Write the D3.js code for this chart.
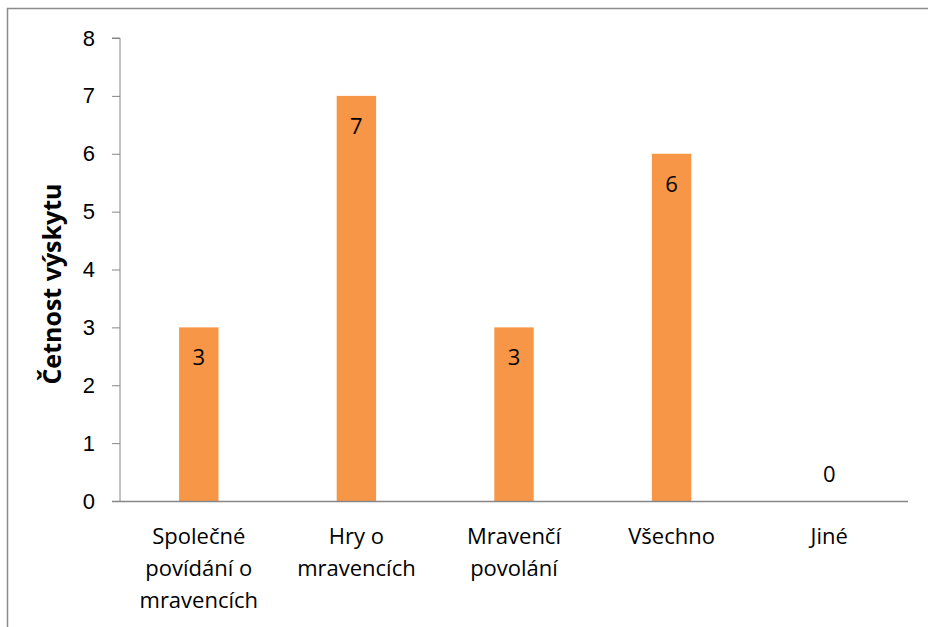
<!DOCTYPE html>
<html>
<head>
<meta charset="utf-8">
<script src="https://cdn.jsdelivr.net/npm/d3@7"></script>
<style>
  body { margin: 0; background: #fff; }
  svg { display: block; font-family: "Open Sans", sans-serif; }
  .axis path, .axis line { stroke: #868686; }
  .axis text { fill: #000; font-size: 22px; }
</style>
</head>
<body>
<svg id="chart" width="928" height="627"></svg>
<script>
// data
const categories = ["Společné povídání o mravencích", "Hry o mravencích", "Mravenčí povolání", "Všechno", "Jiné"];
const counts = [3, 7, 3, 6, 0];
const yTicks = [0, 1, 2, 3, 4, 5, 6, 7, 8];
const yTitle = "Četnost výskytu";

const svg = d3.select("#chart");
const fs = 22;

// ramecek kolem grafu (vpravo a dole oriznuty)
svg.append("rect")
  .attr("x", 7.5).attr("y", 8.5)
  .attr("width", 1000).attr("height", 700)
  .attr("fill", "none")
  .attr("stroke", "#8c8c8c")
  .attr("stroke-width", 1.5);

const plotLeft = 120, plotRight = 908, plotTop = 38, plotBottom = 501;

const x = d3.scaleBand()
  .domain(categories)
  .range([plotLeft, plotRight])
  .padding(0);

const y = d3.scaleLinear()
  .domain([0, 8])
  .range([plotBottom, plotTop]);

const barW = x.bandwidth() * 0.25;

// y osa
svg.append("g")
  .attr("class", "axis")
  .attr("transform", `translate(${plotLeft},0)`)
  .call(d3.axisLeft(y).tickValues(yTicks).tickSize(8).tickPadding(17).tickFormat(d3.format("d")))
  .call(g => g.select(".domain").attr("d", `M-8,${plotTop}H0V${plotBottom}`));

// sloupce
svg.append("g")
  .selectAll("rect")
  .data(counts)
  .join("rect")
  .attr("x", (d, i) => x(categories[i]) + (x.bandwidth() - barW) / 2)
  .attr("y", d => y(d))
  .attr("width", barW)
  .attr("height", d => y(0) - y(d))
  .attr("fill", "#F79646");

// x osa
svg.append("line")
  .attr("x1", plotLeft - 8).attr("x2", plotRight)
  .attr("y1", y(0) + 0.5).attr("y2", y(0) + 0.5)
  .attr("stroke", "#868686")
  .attr("stroke-width", 1.5);

// popisky hodnot
svg.append("g")
  .selectAll("text")
  .data(counts)
  .join("text")
  .attr("x", (d, i) => x(categories[i]) + x.bandwidth() / 2)
  .attr("y", d => d > 0 ? y(d) + 38 : y(0) - 19)
  .attr("text-anchor", "middle")
  .attr("font-size", fs)
  .text(d => d);

// popisky kategorii, zalamovani podle sirky
const catG = svg.append("g");
categories.forEach(c => {
  const t = catG.append("text")
    .attr("x", x(c) + x.bandwidth() / 2)
    .attr("y", 544)
    .attr("text-anchor", "middle")
    .attr("font-size", fs);
  const words = c.split(" ");
  let lines = [], line = [];
  words.forEach(w => {
    const test = line.concat(w).join(" ");
    t.text(test);
    if (line.length && t.node().getComputedTextLength() > 145) {
      lines.push(line.join(" "));
      line = [w];
    } else {
      line.push(w);
    }
  });
  lines.push(line.join(" "));
  t.text(null);
  lines.forEach((l, i) => {
    t.append("tspan")
      .attr("x", x(c) + x.bandwidth() / 2)
      .attr("dy", i === 0 ? 0 : 32)
      .text(l);
  });
});

// nazev osy y
svg.append("text")
  .attr("transform", "translate(61,284) rotate(-90)")
  .attr("text-anchor", "middle")
  .attr("font-size", 25)
  .attr("font-weight", "bold")
  .text(yTitle);
</script>
</body>
</html>
